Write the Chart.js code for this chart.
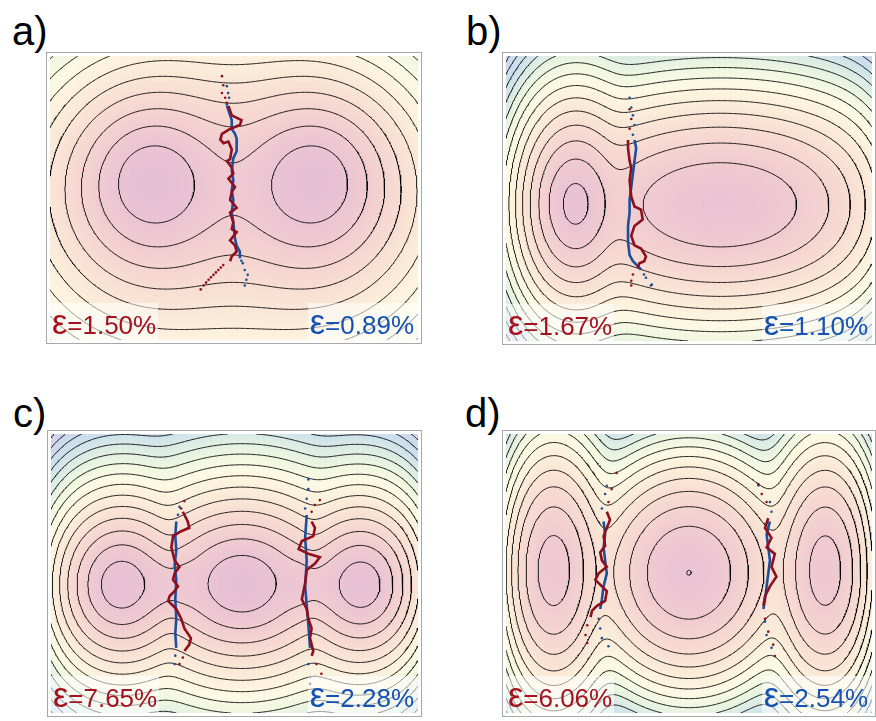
<!DOCTYPE html>
<html>
<head>
<meta charset="utf-8">
<script src="https://cdn.jsdelivr.net/npm/chart.js@4.4.1/dist/chart.umd.min.js"></script>
<style>
html, body { margin: 0; padding: 0; background: #fff; }
body { width: 876px; height: 721px; position: relative; overflow: hidden; font-family: "Liberation Sans", Arial, sans-serif; }
.tag { position: absolute; font-size: 40px; line-height: 40px; color: #000; white-space: nowrap; }
.panel { position: absolute; }
.panel canvas { position: absolute; left: 0; top: 0; display: block; }
.frame { position: absolute; left: 0; top: 0; right: 0; bottom: 0; box-sizing: border-box; border: 1px solid #a8a8a8; pointer-events: none; }
.eps { position: absolute; bottom: 0; height: 41px; background: rgba(255,255,255,0.55); font-size: 26px; line-height: 41px; white-space: nowrap; box-sizing: border-box; padding-top: 2px; }
.eps.red { left: 0; width: 112px; color: #a4121f; padding-left: 6px; }
.eps.blue { right: 0; width: 114px; color: #1552b2; text-align: right; padding-right: 8px; }
.eps .g { font-size: 1.32em; line-height: 0; }
</style>
</head>
<body>
<script>
// Panel letters and the two strain readouts per panel
const panelTags = ['a)', 'b)', 'c)', 'd)'];
const strainRed = ['1.50%', '1.67%', '7.65%', '6.06%'];
const strainBlue = ['0.89%', '1.10%', '2.28%', '2.54%'];

// Energy basins per panel: [x0, y0, ax, ay, k, depth, power]
const wellsA = [[-0.83, 0.21, 0.40, 0.43, 2.67, 0.05, 1], [0.81, 0.21, 0.40, 0.43, 2.67, 0.05, 1]];
const wellsB = [[-1.165, -0.055, 0.10, 0.165, 0.33, 0.64, 1.5], [0.32, -0.065, 0.727, 0.40, 1.14, 1.02, 1.6]];
const wellsC = [[-1.158, -0.115, 0.16, 0.18, 0.757, 0.26, 1.3], [0.075, -0.105, 0.22, 0.19, 0.757, 0.1, 1.3], [1.302, -0.115, 0.16, 0.18, 0.757, 0.26, 1.3]];
const wellsD = [[-1.41, 0.03, 0.236, 0.50, 1, 1.4, 1.8], [0, 0.008, 0.41, 0.46, 1, 0.997, 1.9], [1.42, 0.03, 0.236, 0.50, 1, 1.4, 1.8]];
// Saddle passes per panel: [x, y, wx, wy, lowering]
const passesA = [];
const passesB = [];
const passesC = [[-0.63, -0.115, 0.2, 0.35, 1.1], [0.76, -0.115, 0.2, 0.35, 1.1]];
const passesD = [];
const softness = [2.6, 0.8, 0.6, 1.5];
const tiltY = [0.72, 0, 0, 0];
const sideWall = [0, 1.2, 1.2, 1.5];
const contourLevels = [1, 2, 3, 4, 5, 6, 7, 8, 9, 10, 11, 12, 13, 14, 15, 16, 17, 18, 19, 20, 21, 22];

// Axis extents per panel (x half-width, y half-height)
const extentX = [1.88, 1.87, 1.875, 1.87];
const extentY = [1.46, 1.465, 1.435, 1.435];

// Energy -> colour stops [level, r, g, b]
const colourStops = [
  [0, 228, 190, 212], [1.5, 237, 199, 210], [3, 245, 212, 208], [4.5, 249, 226, 212],
  [6, 252, 239, 219], [7.5, 253, 249, 228], [9, 240, 247, 224], [10.5, 222, 238, 228],
  [12, 206, 226, 236], [13.5, 204, 218, 238], [15, 212, 210, 236], [17, 220, 206, 232]
];

// Path traces: red (one method) and blue (the other), solid parts and scattered ends
const redPathA = [[-0.057,0.947],[-0.023,0.85],[0.077,0.80],[0.06,0.75],[-0.04,0.71],[-0.123,0.66],[-0.14,0.60],[-0.107,0.563],[-0.057,0.58],[-0.023,0.50],[-0.04,0.40],[-0.073,0.38],[-0.023,0.313],[-0.007,0.25],[-0.057,0.20],[0.01,0.113],[-0.023,0.063],[-0.04,-0.02],[0.027,-0.10],[-0.04,-0.15],[-0.007,-0.25],[-0.023,-0.32],[0.027,-0.35],[-0.04,-0.437],[0.01,-0.487],[0.027,-0.55],[-0.023,-0.60],[-0.04,-0.65]];
const redDotsA = [[-0.123,1.253],[-0.11,1.16],[-0.123,1.08],[-0.09,1.03],[-0.073,0.98],[-0.11,-0.69],[-0.135,-0.715],[-0.16,-0.74],[-0.185,-0.765],[-0.21,-0.79],[-0.235,-0.815],[-0.26,-0.84],[-0.285,-0.87],[-0.31,-0.90],[-0.34,-0.94]];
const bluePathA = [[-0.073,0.95],[-0.023,0.80],[-0.023,0.71],[0.01,0.66],[0.027,0.61],[0.027,0.48],[-0.007,0.41],[-0.023,0.28],[-0.007,0.18],[-0.023,0.08],[-0.007,-0.02],[-0.023,-0.15],[-0.007,-0.25],[0.01,-0.42],[0.027,-0.49],[0.06,-0.55],[0.06,-0.62]];
const blueDotsA = [[-0.073,1.15],[-0.06,1.08],[-0.05,1.03],[-0.073,0.963],[0.09,-0.67],[0.11,-0.74],[0.14,-0.79],[0.127,-0.84],[0.11,-0.90],[0.075,-0.645]];

const redPathB = [[-0.623,0.602],[-0.623,0.518],[-0.607,0.385],[-0.59,0.318],[-0.607,0.185],[-0.59,0.018],[-0.557,-0.082],[-0.49,-0.115],[-0.473,-0.215],[-0.557,-0.282],[-0.59,-0.382],[-0.557,-0.482],[-0.49,-0.515],[-0.44,-0.595],[-0.457,-0.645],[-0.507,-0.665],[-0.523,-0.715]];
const redDotsB = [[-0.607,0.918],[-0.59,0.818],[-0.607,0.718],[-0.573,-0.782],[-0.59,-0.845],[-0.59,-0.895]];
const bluePathB = [[-0.557,0.602],[-0.54,0.518],[-0.557,0.385],[-0.573,0.255],[-0.59,0.118],[-0.607,-0.015],[-0.607,-0.145],[-0.623,-0.282],[-0.623,-0.445],[-0.607,-0.582],[-0.573,-0.645],[-0.523,-0.695],[-0.49,-0.732]];
const blueDotsB = [[-0.607,1.035],[-0.59,0.935],[-0.573,0.855],[-0.557,0.755],[-0.573,0.655],[-0.46,-0.782],[-0.44,-0.815],[-0.39,-0.895],[-0.38,-0.885]];

const redPathC = [[-0.528,0.635],[-0.478,0.535],[-0.462,0.468],[-0.545,0.435],[-0.628,0.385],[-0.645,0.268],[-0.612,0.135],[-0.562,0.068],[-0.612,0.002],[-0.628,-0.065],[-0.578,-0.132],[-0.612,-0.182],[-0.662,-0.232],[-0.678,-0.282],[-0.595,-0.365],[-0.545,-0.465],[-0.512,-0.565],[-0.445,-0.665],[-0.462,-0.732],[-0.512,-0.798],
  null,
  [0.788,0.535],[0.822,0.468],[0.805,0.385],[0.688,0.335],[0.655,0.252],[0.755,0.202],[0.872,0.168],[0.822,0.102],[0.738,0.035],[0.722,-0.098],[0.688,-0.265],[0.738,-0.365],[0.755,-0.465],[0.788,-0.565],[0.772,-0.665],[0.805,-0.798],[0.788,-0.848]];
const redDotsC = [[-0.512,0.745],[-0.545,0.668],[-0.528,-0.865],[-0.562,-0.932],[0.872,0.755],[0.822,0.705],[0.788,0.635],[0.838,-0.932],[0.888,-1.032]];
const bluePathC = [[-0.595,0.535],[-0.605,0.385],[-0.595,0.235],[-0.612,0.085],[-0.595,-0.065],[-0.605,-0.265],[-0.595,-0.465],[-0.605,-0.615],[-0.595,-0.765],
  null,
  [0.738,0.602],[0.722,0.368],[0.738,0.135],[0.722,-0.132],[0.738,-0.332],[0.755,-0.532],[0.772,-0.765]];
const blueDotsC = [[-0.562,0.685],[-0.578,0.605],[-0.605,-0.845],[-0.612,-0.932],[0.755,0.968],[0.755,0.868],[0.738,0.768],[0.722,0.668],[0.755,-0.932],[0.772,-1.065],[0.772,-1.135]];

const redPathD = [[-0.84,0.635],[-0.807,0.552],[-0.84,0.468],[-0.873,0.385],[-0.857,0.285],[-0.907,0.218],[-0.89,0.135],[-0.84,0.068],[-0.923,0.002],[-0.957,-0.065],[-0.89,-0.132],[-0.84,-0.182],[-0.857,-0.282],[-0.94,-0.332],[-0.99,-0.382],[-1.007,-0.448],
  null,
  [0.81,0.568],[0.777,0.468],[0.843,0.368],[0.793,0.268],[0.877,0.202],[0.843,0.068],[0.893,-0.032],[0.827,-0.132],[0.777,-0.232],[0.76,-0.332]];
const redDotsD = [[-0.74,1.035],[-0.79,0.868],[-0.823,0.735],[-1.04,-0.532],[-1.057,-0.632],[-1.04,-0.715],[0.71,0.918],[0.743,0.818],[0.793,0.735],[0.777,-0.465],[0.81,-0.598],[0.86,-0.732],[0.877,-0.848]];
const bluePathD = [[-0.873,0.535],[-0.857,0.402],[-0.873,0.268],[-0.857,0.135],[-0.84,0.002],[-0.873,-0.132],[-0.89,-0.265],[-0.907,-0.365],
  null,
  [0.827,0.535],[0.793,0.402],[0.81,0.268],[0.827,0.135],[0.81,0.002],[0.793,-0.132],[0.777,-0.265],[0.76,-0.365]];
const blueDotsD = [[-0.84,0.902],[-0.857,0.818],[-0.89,0.668],[-0.923,-0.465],[-0.907,-0.565],[-0.89,-0.665],[-0.823,-0.748],[0.71,0.905],[0.827,0.735],[0.843,0.635],[0.777,-0.495],[0.793,-0.632],[0.843,-0.765]];

// Panel placement on the page
const panelBoxes = [[46, 52, 376, 292], [502, 52, 374, 293], [47, 430, 375, 287], [502, 430, 374, 287]];
const tagPositions = [[12, 11], [466, 11], [13, 393], [465, 393]];

const panels = [
  { wells: wellsA, passes: passesA, red: redPathA, redDots: redDotsA, blue: bluePathA, blueDots: blueDotsA },
  { wells: wellsB, passes: passesB, red: redPathB, redDots: redDotsB, blue: bluePathB, blueDots: blueDotsB },
  { wells: wellsC, passes: passesC, red: redPathC, redDots: redDotsC, blue: bluePathC, blueDots: blueDotsC },
  { wells: wellsD, passes: passesD, red: redPathD, redDots: redDotsD, blue: bluePathD, blueDots: blueDotsD }
];

function energy(p, x, y) {
  const T = softness[p];
  const vals = panels[p].wells.map(w => {
    const dx = (x - w[0]) / w[2], dy = (y - w[1]) / w[3];
    return w[5] + w[4] * (Math.pow(1 + dx * dx + dy * dy, w[6] / 2) - 1);
  });
  const m = Math.min(...vals);
  let s = 0;
  for (const v of vals) s += Math.exp(-(v - m) / T);
  let e = m - T * Math.log(s) + tiltY[p] * y;
  for (const g of panels[p].passes) {
    const u = (x - g[0]) / g[2], v = (y - g[1]) / g[3];
    e -= g[4] * Math.exp(-u * u - v * v);
  }
  const xr = x / extentX[p];
  e += sideWall[p] * Math.pow(xr, 8);
  return e;
}

function colourFor(v) {
  if (v <= colourStops[0][0]) return colourStops[0].slice(1);
  for (let i = 1; i < colourStops.length; i++) {
    if (v <= colourStops[i][0]) {
      const a = colourStops[i - 1], b = colourStops[i];
      const t = (v - a[0]) / (b[0] - a[0]);
      return [a[1] + t * (b[1] - a[1]), a[2] + t * (b[2] - a[2]), a[3] + t * (b[3] - a[3])];
    }
  }
  return colourStops[colourStops.length - 1].slice(1);
}

// Marching squares: returns polylines of {x, y} for one level
function isolines(grid, nx, ny, x0, y0, dx, dy, L) {
  const H = ny * (nx - 1);
  const adj = new Map();
  const link = (a, b) => {
    if (!adj.has(a)) adj.set(a, []);
    if (!adj.has(b)) adj.set(b, []);
    adj.get(a).push(b); adj.get(b).push(a);
  };
  for (let j = 0; j < ny - 1; j++) {
    for (let i = 0; i < nx - 1; i++) {
      const v0 = grid[j * nx + i], v1 = grid[j * nx + i + 1];
      const v2 = grid[(j + 1) * nx + i + 1], v3 = grid[(j + 1) * nx + i];
      const c = (v0 > L ? 1 : 0) | (v1 > L ? 2 : 0) | (v2 > L ? 4 : 0) | (v3 > L ? 8 : 0);
      if (c === 0 || c === 15) continue;
      const e0 = j * (nx - 1) + i, e2 = (j + 1) * (nx - 1) + i;
      const e3 = H + j * nx + i, e1 = H + j * nx + i + 1;
      const mid = (v0 + v1 + v2 + v3) / 4 > L;
      switch (c) {
        case 1: case 14: link(e3, e0); break;
        case 2: case 13: link(e0, e1); break;
        case 3: case 12: link(e3, e1); break;
        case 4: case 11: link(e1, e2); break;
        case 6: case 9: link(e0, e2); break;
        case 7: case 8: link(e2, e3); break;
        case 5: if (mid) { link(e0, e1); link(e2, e3); } else { link(e3, e0); link(e1, e2); } break;
        case 10: if (mid) { link(e3, e0); link(e1, e2); } else { link(e0, e1); link(e2, e3); } break;
      }
    }
  }
  const pt = id => {
    if (id < H) {
      const j = Math.floor(id / (nx - 1)), i = id % (nx - 1);
      const a = grid[j * nx + i], b = grid[j * nx + i + 1];
      const t = (L - a) / (b - a);
      return { x: x0 + (i + t) * dx, y: y0 + j * dy };
    }
    const k = id - H, j = Math.floor(k / nx), i = k % nx;
    const a = grid[j * nx + i], b = grid[(j + 1) * nx + i];
    const t = (L - a) / (b - a);
    return { x: x0 + i * dx, y: y0 + (j + t) * dy };
  };
  const seen = new Set();
  const lines = [];
  const walk = start => {
    const line = [];
    let prev = -1, cur = start;
    while (cur !== undefined && !seen.has(cur)) {
      seen.add(cur);
      line.push(pt(cur));
      const nb = adj.get(cur);
      let next;
      for (const n of nb) if (n !== prev && !seen.has(n)) { next = n; break; }
      if (next === undefined && nb.includes(start) && line.length > 2) line.push(pt(start));
      prev = cur; cur = next;
    }
    if (line.length > 1) lines.push(line);
  };
  for (const [id, nb] of adj) if (nb.length === 1 && !seen.has(id)) walk(id);
  for (const [id] of adj) if (!seen.has(id)) walk(id);
  return lines;
}

const toXY = arr => arr.map(p => p ? { x: p[0], y: p[1] } : { x: NaN, y: NaN });

panelBoxes.forEach((box, p) => {
  const P = panels[p];
  const tag = document.createElement('div');
  tag.className = 'tag';
  tag.style.left = tagPositions[p][0] + 'px';
  tag.style.top = tagPositions[p][1] + 'px';
  tag.textContent = panelTags[p];
  document.body.appendChild(tag);

  const wrap = document.createElement('div');
  wrap.className = 'panel';
  wrap.style.left = box[0] + 'px'; wrap.style.top = box[1] + 'px';
  wrap.style.width = box[2] + 'px'; wrap.style.height = box[3] + 'px';
  const cv = document.createElement('canvas');
  cv.width = box[2]; cv.height = box[3];
  cv.style.width = box[2] + 'px'; cv.style.height = box[3] + 'px';
  wrap.appendChild(cv);
  document.body.appendChild(wrap);

  const xmin = -extentX[p], xmax = extentX[p], ymin = -extentY[p], ymax = extentY[p];
  const nx = Math.round(box[2] / 1.25) + 1, ny = Math.round(box[3] / 1.25) + 1;
  const dx = (xmax - xmin) / (nx - 1), dy = (ymax - ymin) / (ny - 1);
  const grid = new Float64Array(nx * ny);
  for (let j = 0; j < ny; j++) for (let i = 0; i < nx; i++) grid[j * nx + i] = energy(p, xmin + i * dx, ymin + j * dy);

  // colour map image of the energy grid
  const img = document.createElement('canvas');
  img.width = nx; img.height = ny;
  const ictx = img.getContext('2d');
  const id = ictx.createImageData(nx, ny);
  for (let j = 0; j < ny; j++) for (let i = 0; i < nx; i++) {
    const c = colourFor(grid[j * nx + i]);
    const o = ((ny - 1 - j) * nx + i) * 4;
    id.data[o] = c[0]; id.data[o + 1] = c[1]; id.data[o + 2] = c[2]; id.data[o + 3] = 255;
  }
  ictx.putImageData(id, 0, 0);

  const datasets = [];
  contourLevels.forEach(L => {
    isolines(grid, nx, ny, xmin, ymin, dx, dy, L).forEach(line => {
      datasets.push({ data: line, showLine: true, borderColor: 'rgba(0,0,0,0.88)', borderWidth: 1, pointRadius: 0, order: 10 });
    });
  });
  datasets.push({ data: toXY(P.blue), showLine: true, spanGaps: false, borderColor: '#1b4f9c', borderWidth: 2.6, pointRadius: 0, order: 4 });
  datasets.push({ data: toXY(P.blueDots), showLine: false, pointRadius: 1.3, pointBorderWidth: 0, pointBackgroundColor: '#1b4f9c', order: 3 });
  datasets.push({ data: toXY(P.red), showLine: true, spanGaps: false, borderColor: '#8e0f1e', borderWidth: 2.6, pointRadius: 0, order: 2 });
  datasets.push({ data: toXY(P.redDots), showLine: false, pointRadius: 1.3, pointBorderWidth: 0, pointBackgroundColor: '#8e0f1e', order: 1 });

  const heatPlugin = {
    id: 'heat',
    beforeDatasetsDraw(chart) {
      const xs = chart.scales.x, ys = chart.scales.y, ctx = chart.ctx;
      const l = xs.getPixelForValue(xmin), r = xs.getPixelForValue(xmax);
      const t = ys.getPixelForValue(ymax), b = ys.getPixelForValue(ymin);
      ctx.save();
      ctx.imageSmoothingEnabled = true;
      ctx.drawImage(img, l, t, r - l, b - t);
      ctx.restore();
    }
  };

  new Chart(cv, {
    type: 'scatter',
    data: { datasets },
    options: {
      responsive: false, animation: false, devicePixelRatio: 1, events: [],
      layout: { padding: 0 },
      plugins: { legend: { display: false }, tooltip: { enabled: false } },
      scales: {
        x: { type: 'linear', min: xmin, max: xmax, display: false },
        y: { type: 'linear', min: ymin, max: ymax, display: false }
      },
      elements: { line: { tension: 0 } }
    },
    plugins: [heatPlugin]
  });

  const er = document.createElement('div');
  er.className = 'eps red';
  er.innerHTML = '<span class="g">ε</span>=' + strainRed[p];
  wrap.appendChild(er);
  const eb = document.createElement('div');
  eb.className = 'eps blue';
  eb.innerHTML = '<span class="g">ε</span>=' + strainBlue[p];
  wrap.appendChild(eb);
  const fr = document.createElement('div');
  fr.className = 'frame';
  wrap.appendChild(fr);
});
</script>
</body>
</html>
